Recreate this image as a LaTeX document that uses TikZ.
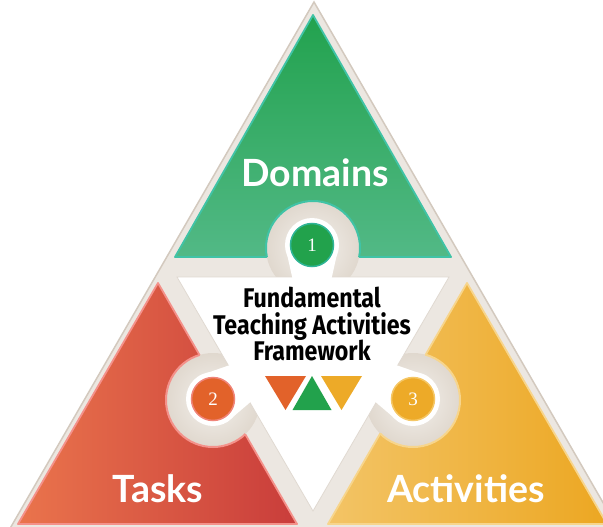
\documentclass[tikz,border=0pt]{standalone}
\usepackage{fontspec}
\newfontfamily\labfont{Lato}
\newfontfamily\cfont[FakeStretch=0.86]{Fira Sans}
\newfontfamily\numfont{Liberation Serif}
\definecolor{frameFill}{HTML}{ECE7E1}
\definecolor{frameEdge}{HTML}{D3C9BE}
\definecolor{discIn}{HTML}{F4F1ED}
\definecolor{discOut}{HTML}{E0D8CE}
\definecolor{greenTop}{HTML}{22A24E}
\definecolor{greenBot}{HTML}{52B986}
\definecolor{greenEdge}{HTML}{40C3A6}
\definecolor{redLight}{HTML}{EA744C}
\definecolor{redDark}{HTML}{C93D3B}
\definecolor{redEdge}{HTML}{F4918A}
\definecolor{yelLight}{HTML}{F3C466}
\definecolor{yelDark}{HTML}{ECA722}
\definecolor{yelEdge}{HTML}{F7D58C}
\definecolor{cGreen}{HTML}{22A24C}
\definecolor{cGreenEdge}{HTML}{2FB597}
\definecolor{cOrange}{HTML}{E2622A}
\definecolor{cOrangeEdge}{HTML}{F0857A}
\definecolor{cYellow}{HTML}{EDAA28}
\definecolor{cYellowEdge}{HTML}{F5C766}
\usetikzlibrary{calc}
\tikzset{
  labtext/.style={anchor=base, text=white, font=\labfont\bfseries\fontsize{37.5}{37.5}\selectfont, inner sep=0pt},
  ctext/.style={anchor=north, align=center, text=black, font=\cfont\bfseries\fontsize{27}{26.5}\selectfont, inner sep=0pt},
  numtext/.style={text=white, font=\numfont\fontsize{19}{19}\selectfont, inner sep=0pt},
  pin/.style={fill=white},
}
\begin{document}
\begin{tikzpicture}[x=1pt,y=-1pt]
\useasboundingbox (0,0) rectangle (603,527);
\clip (0,0) rectangle (603,527);
% outer frame
\fill[frameFill, draw=frameEdge, line width=1.5] (314,2) -- (8,532) -- (620,532) -- cycle;
% coordinates
\coordinate (G1) at (313,15);  \coordinate (G2) at (175,257); \coordinate (G3) at (451,257);
\coordinate (R1) at (158,283); \coordinate (R2) at (18,524);  \coordinate (R3) at (297,524);
\coordinate (Y1) at (467,283); \coordinate (Y2) at (328,524); \coordinate (Y3) at (607,524);
\coordinate (W1) at (177,277); \coordinate (W2) at (449,277); \coordinate (W3) at (313,511);
\coordinate (C1) at (312,245); \coordinate (C2) at (213,399); \coordinate (C3) at (413,399);
% colored triangles
\shade[top color=greenTop, bottom color=greenBot] (G1) -- (G2) -- (G3) -- cycle;
\draw[greenEdge, line width=1.8, line join=round] (G1) -- (G2) -- (G3) -- cycle;
\shade[left color=redLight, right color=redDark] (R1) -- (R2) -- (R3) -- cycle;
\draw[redEdge, line width=1.8, line join=round] (R1) -- (R2) -- (R3) -- cycle;
\shade[left color=yelLight, right color=yelDark] (Y1) -- (Y2) -- (Y3) -- cycle;
\draw[yelEdge, line width=1.8, line join=round] (Y1) -- (Y2) -- (Y3) -- cycle;
% beige cut-out discs
\shade[inner color=discIn, outer color=discOut] (313,248) circle[radius=47];
\shade[inner color=discIn, outer color=discOut] (213,400) circle[radius=47];
\shade[inner color=discIn, outer color=discOut] (413,400) circle[radius=47];
\begin{scope}
  \clip (G1) -- (G2) -- (G3) -- cycle;
  \draw[greenEdge, line width=2] (313,248) circle[radius=47];
\end{scope}
\begin{scope}
  \clip (R1) -- (R2) -- (R3) -- cycle;
  \draw[redEdge, line width=2] (213,400) circle[radius=47];
\end{scope}
\begin{scope}
  \clip (Y1) -- (Y2) -- (Y3) -- cycle;
  \draw[yelEdge, line width=2] (413,400) circle[radius=47];
\end{scope}
% central white triangle
\fill[white, draw=frameEdge!70, line width=0.8] (W1) -- (W2) -- (W3) -- cycle;
% white pins
\fill[pin] (C1) circle[radius=27];
\fill[pin] (285,245) -- (339,245) -- (331,281) -- (293,281) -- cycle;
\fill[pin] (C2) circle[radius=27];
\fill[pin] (226.5,422.4) -- (199.5,375.6) -- (235.8,363) -- (255.8,397.5) -- cycle;
\fill[pin] (C3) circle[radius=27];
\fill[pin] (426.5,375.6) -- (399.5,422.4) -- (370.2,397.5) -- (390.2,363) -- cycle;
% numbered circles
\fill[cGreen, draw=cGreenEdge, line width=1.5] (C1) circle[radius=21.5];
\node[numtext] (n1) at (C1) {1};
\fill[cOrange, draw=cOrangeEdge, line width=1.5] (C2) circle[radius=21.5];
\node[numtext] (n2) at (C2) {2};
\fill[cYellow, draw=cYellowEdge, line width=1.5] (C3) circle[radius=21.5];
\node[numtext] (n3) at (C3) {3};
% labels
\node[labtext] (dom) at (315,186) {Domains};
\node[labtext] (tas) at (158,502) {Tasks};
\node[labtext] (act) at (466,502) {Activities};
% central title
\node[ctext] (title) at (312,287) {Fundamental\\Teaching Activities\\Framework};
% small triangles
\fill[cOrange] (265,376) -- (306,376) -- (285.5,410) -- cycle;
\fill[cGreen] (312,376) -- (292.5,410) -- (331.5,410) -- cycle;
\fill[cYellow] (321,376) -- (362,376) -- (341.5,410) -- cycle;
\end{tikzpicture}
\end{document}
